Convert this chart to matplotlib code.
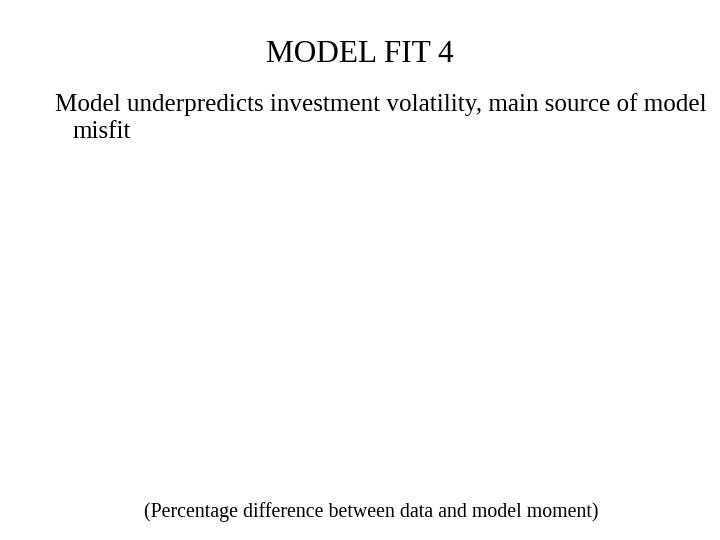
import matplotlib
matplotlib.use("Agg")
import matplotlib.pyplot as plt

title_text = "MODEL FIT 4"
body_lines = ["Model underpredicts investment volatility, main source of model", "misfit"]
caption_text = "(Percentage difference between data and model moment)"

W, H = 720, 540
fig = plt.figure(figsize=(7.2, 5.4), dpi=100)
fig.patch.set_facecolor("white")

def px(x, y):
    return x / W, 1 - y / H

serif = ["Liberation Serif", "DejaVu Serif"]

fig.text(*px(360, 62), title_text, ha="center", va="baseline", fontsize=22.5, family=serif)
fig.text(*px(55, 111), body_lines[0], ha="left", va="baseline", fontsize=18.1, family=serif)
fig.text(*px(72, 138), body_lines[1], ha="left", va="baseline", fontsize=18.1, family=serif)
fig.text(*px(371.5, 517), caption_text, ha="center", va="baseline", fontsize=14.3, family=serif)

fig.savefig("out.png", dpi=100, facecolor="white")
